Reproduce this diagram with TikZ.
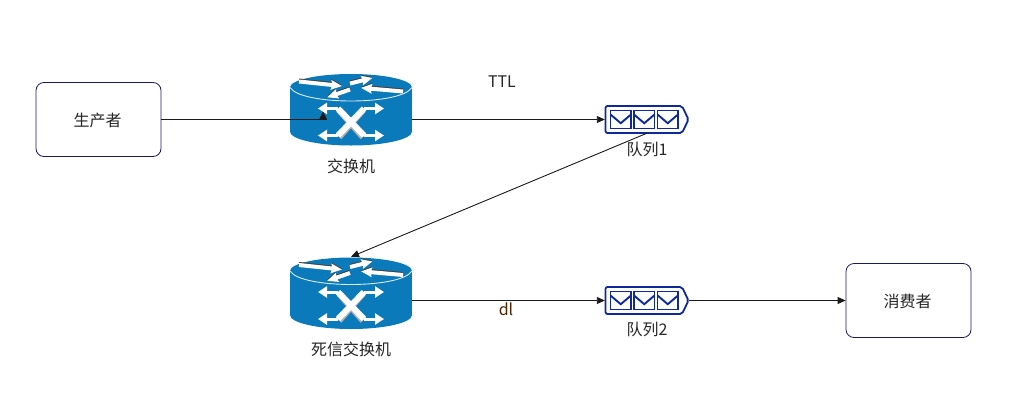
\documentclass[tikz,border=0pt]{standalone}
\usepackage{fontspec}
\setmainfont{Noto Sans CJK SC}
\usepackage{xcolor}
\usetikzlibrary{positioning, arrows.meta}

\definecolor{routerblue}{HTML}{0A7ABA}
\definecolor{queueblue}{HTML}{10299A}
\definecolor{boxline}{HTML}{1A1A5E}
\definecolor{linkdark}{HTML}{1A1A1A}

\newcommand{\flatarrow}[4]{%
  \begin{scope}[shift={(#1,#2-1)},rotate=#3]
    \fill[black!75] (0,-2)--(#4-10,-2)--(#4-11,-5)--(#4,0)--(#4-11,5)--(#4-10,2)--(0,2)--cycle;
  \end{scope}
  \begin{scope}[shift={(#1,#2)},rotate=#3]
    \fill[white] (0,-2)--(#4-10,-2)--(#4-11,-5)--(#4,0)--(#4-11,5)--(#4-10,2)--(0,2)--cycle;
  \end{scope}}

\tikzset{
  routerbox/.style={minimum width=122pt,minimum height=92pt,inner sep=0pt},
  queuebox/.style={minimum width=84pt,minimum height=27pt,inner sep=0pt},
  endbox/.style={draw=boxline,fill=white,rounded corners=8pt,line width=0.8pt,minimum width=125pt,minimum height=74pt,inner sep=0pt},
  tag/.style={font=\fontsize{16}{18}\selectfont,text=black!85,inner sep=0pt},
  link/.style={draw=linkdark,line width=0.9pt},
  crossbar/.style={white,line width=3pt,-{Triangle[length=9pt,width=11pt]}},
  router/.pic={
    \fill[routerblue] (-61,-32) rectangle (61,12);
    \fill[routerblue] (0,12) ellipse (61 and 14);
    \fill[routerblue] (0,-32) ellipse (61 and 13.5);
    \draw[white!85!routerblue,line width=0.9pt] (-61,-32) .. controls (-50,-14) and (50,-14) .. (61,-32);
    \flatarrow{-52}{-38}{-6}{43}
    \flatarrow{-1}{-30}{199}{24}
    \flatarrow{-1}{-36}{14}{23}
    \flatarrow{52}{-28}{175}{42}
    \draw[black!30,line width=6.5pt] (-12,-9.5)--(12,17.5);
    \draw[black!30,line width=6.5pt] (12,-9.5)--(-12,17.5);
    \draw[crossbar] (-13,-11)--(-33,-11);
    \draw[crossbar] (13,-11)--(33,-11);
    \draw[crossbar] (-13,16)--(-33,16);
    \draw[crossbar] (13,16)--(33,16);
    \draw[white,line width=6pt] (-13,-11)--(13,16);
    \draw[white,line width=6pt] (13,-11)--(-13,16);
  },
  queue/.pic={
    \draw[queueblue,line width=1.8pt,fill=white,rounded corners=2pt] (-41.5,-13.5)--(35,-13.5)--(41.5,0)--(35,13.5)--(-41.5,13.5)--cycle;
    \foreach \qx in {-36.5,-13,10.5}{
      \draw[queueblue,line width=1.9pt,fill=white] (\qx,-9) rectangle ++(20.5,18);
      \draw[queueblue,line width=1.9pt] (\qx,-5)--(\qx+10.25,3.7)--(\qx+20.5,-5);
    }
  }
}

\begin{document}
\begin{tikzpicture}[x=1pt,y=-1pt,>={Triangle[length=8pt,width=7pt]}]
  \useasboundingbox (0,0) rectangle (1019,407);

  \node[endbox] (prod) at (98.5,119.5) {};
  \node[endbox] (cons) at (908.5,300.5) {};
  \node[routerbox] (ex) at (351,119.5) {};
  \node[routerbox] (dlx) at (351,303) {};
  \node[queuebox] (q1) at (647,119.5) {};
  \node[queuebox] (q2) at (647,300.5) {};
  \coordinate (exin) at (327,119.5);

  \pic at (ex) {router};
  \pic at (dlx) {router};
  \pic at (q1) {queue};
  \pic at (q2) {queue};

  \node[tag] (prodtxt) at (97.5,120) {生产者};
  \node[tag] (constxt) at (907.5,301) {消费者};
  \node[tag] (extxt) at (351,166) {交换机};
  \node[tag] (dlxtxt) at (351,349) {死信交换机};
  \node[tag] (q1txt) at (647,149) {队列1};
  \node[tag] (q2txt) at (647,329) {队列2};
  \node[tag] (ttl) at (502,82) {TTL};
  \node[tag,text=black!70!orange] (dl) at (506,309) {dl};

  \draw[link] (prod) -- (exin);
  \fill[linkdark] (319,119.5) -- (327,119.5) -- (323,111.5) -- cycle;
  \draw[link,->] (ex) -- (q1);
  \draw[link,->] (q1.south) -- (dlx.north);
  \draw[link,->] (dlx.east |- q2.west) -- (q2.west);
  \draw[link,->] (q2) -- (cons);
\end{tikzpicture}
\end{document}
